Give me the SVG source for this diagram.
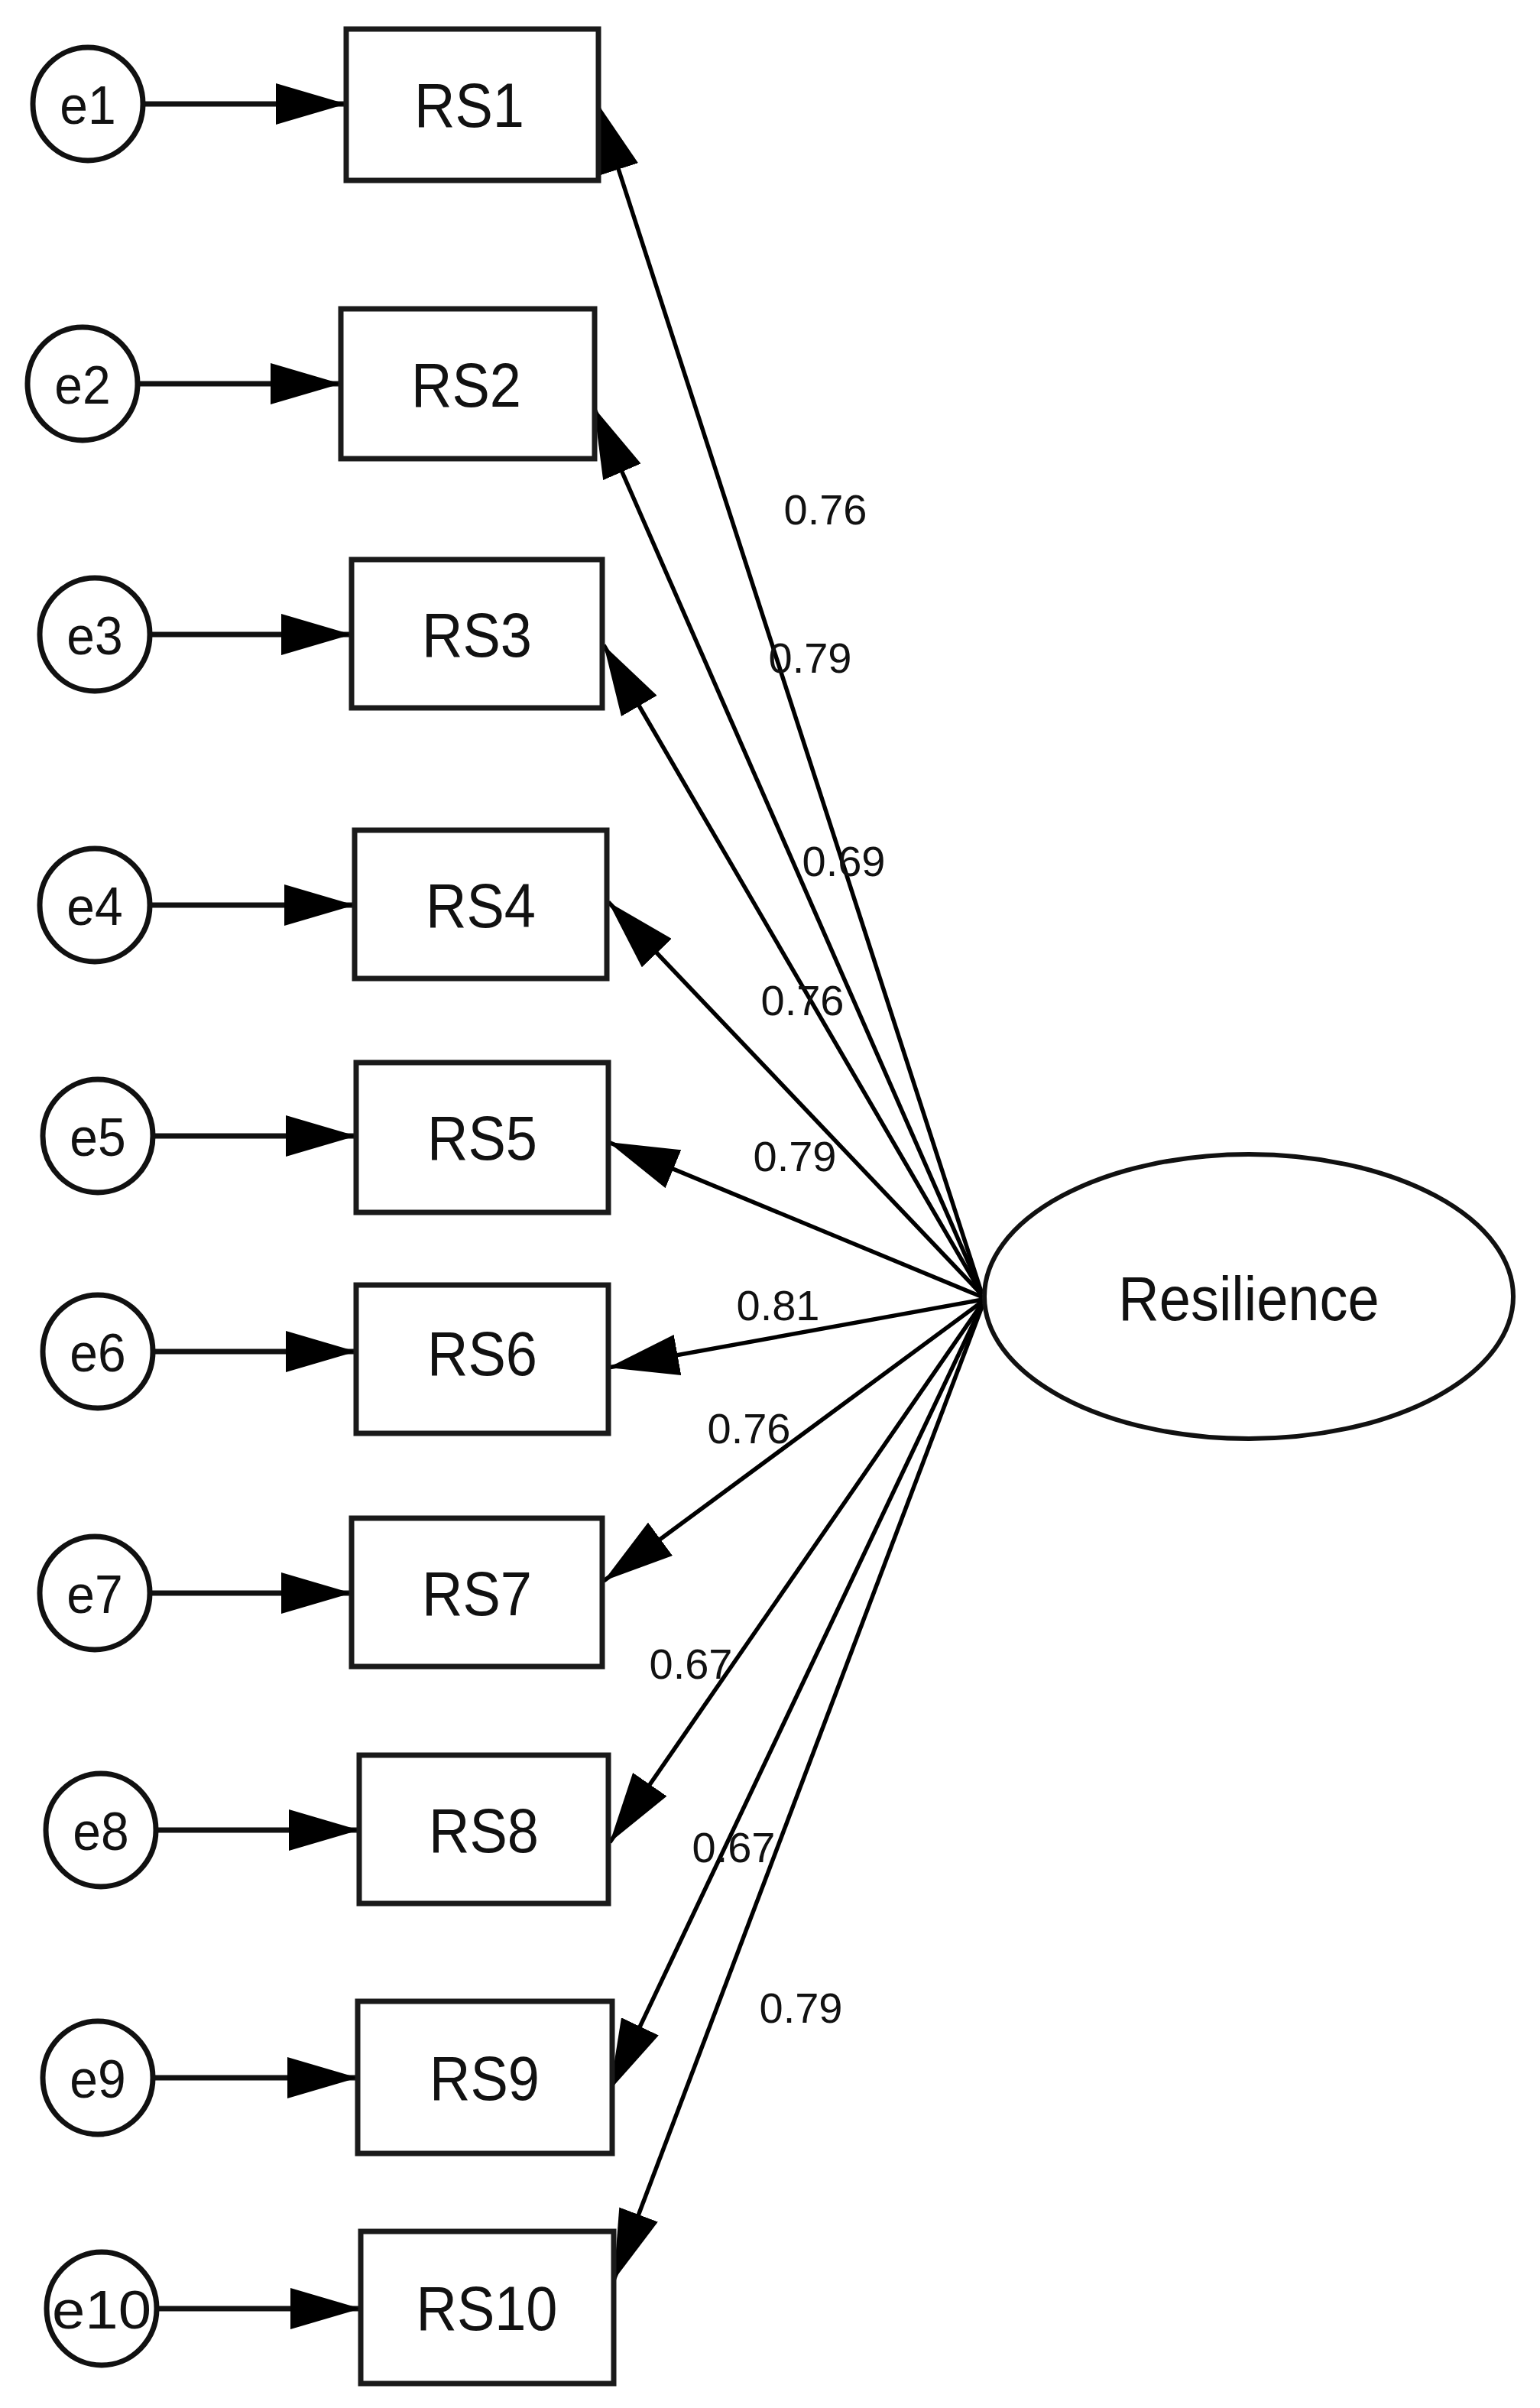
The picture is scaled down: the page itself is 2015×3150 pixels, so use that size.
<svg xmlns="http://www.w3.org/2000/svg" width="2015" height="3150" viewBox="0 0 2015 3150">
<defs>
<marker id="ah" markerUnits="userSpaceOnUse" markerWidth="92" markerHeight="54" refX="92" refY="27" orient="auto" viewBox="0 0 92 54">
<path d="M0,0 L92,27 L0,54 Z" fill="#000"/>
</marker>
<style>
.box{fill:#fff;stroke:#1a1a1a;stroke-width:7}
.err{fill:#fff;stroke:#111;stroke-width:7}
.lat{fill:#fff;stroke:#111;stroke-width:6}
.edge{stroke:#000;stroke-width:5.5;fill:none;marker-end:url(#ah)}
.eedge{stroke:#111;stroke-width:7;fill:none;marker-end:url(#ah)}
.t{font-family:"Liberation Sans",Arial,sans-serif;fill:#111;text-anchor:middle}
.tb{font-size:74px;transform-box:fill-box;transform-origin:center;transform:scaleY(1.1)}
.te{font-size:66px;transform-box:fill-box;transform-origin:center;transform:scaleY(1.08)}
.tl{font-size:56px}
</style>
</defs>
<rect width="2015" height="3150" fill="#fff"/>
<g id="connectors">
<line class="eedge" x1="188" y1="136" x2="453" y2="136"/>
<line class="eedge" x1="181" y1="502" x2="446" y2="502"/>
<line class="eedge" x1="197" y1="830" x2="460" y2="830"/>
<line class="eedge" x1="197" y1="1184" x2="464" y2="1184"/>
<line class="eedge" x1="201" y1="1486" x2="466" y2="1486"/>
<line class="eedge" x1="201" y1="1768" x2="466" y2="1768"/>
<line class="eedge" x1="197" y1="2084" x2="460" y2="2084"/>
<line class="eedge" x1="205" y1="2394" x2="470" y2="2394"/>
<line class="eedge" x1="201" y1="2718" x2="468" y2="2718"/>
<line class="eedge" x1="206" y1="3020" x2="472" y2="3020"/>
<line class="edge" x1="1284" y1="1690" x2="781" y2="134"/>
<line class="edge" x1="1284" y1="1690" x2="777" y2="533"/>
<line class="edge" x1="1284" y1="1692" x2="790" y2="844"/>
<line class="edge" x1="1285" y1="1694" x2="796" y2="1180"/>
<line class="edge" x1="1286" y1="1697" x2="796" y2="1494"/>
<line class="edge" x1="1286" y1="1700" x2="796" y2="1789"/>
<line class="edge" x1="1286" y1="1702" x2="790" y2="2068"/>
<line class="edge" x1="1285" y1="1705" x2="798" y2="2410"/>
<line class="edge" x1="1285" y1="1707" x2="798" y2="2734"/>
<line class="edge" x1="1285" y1="1709" x2="803" y2="2983"/>
<text class="t tl" x="1080" y="686">0.76</text>
<text class="t tl" x="1060" y="880">0.79</text>
<text class="t tl" x="1104" y="1146">0.69</text>
<text class="t tl" x="1050" y="1328">0.76</text>
<text class="t tl" x="1040" y="1532">0.79</text>
<text class="t tl" x="1018" y="1727">0.81</text>
<text class="t tl" x="980" y="1888">0.76</text>
<text class="t tl" x="904" y="2196">0.67</text>
<text class="t tl" x="960" y="2436">0.67</text>
<text class="t tl" x="1048" y="2646">0.79</text>
</g>
<g id="e1"><ellipse class="err" cx="115" cy="136" rx="72" ry="74"/><text class="t te" x="115" y="160">e1</text></g>
<g id="e2"><ellipse class="err" cx="108" cy="502" rx="72" ry="74"/><text class="t te" x="108" y="526">e2</text></g>
<g id="e3"><ellipse class="err" cx="124" cy="830" rx="72" ry="74"/><text class="t te" x="124" y="854">e3</text></g>
<g id="e4"><ellipse class="err" cx="124" cy="1184" rx="72" ry="74"/><text class="t te" x="124" y="1208">e4</text></g>
<g id="e5"><ellipse class="err" cx="128" cy="1486" rx="72" ry="74"/><text class="t te" x="128" y="1510">e5</text></g>
<g id="e6"><ellipse class="err" cx="128" cy="1768" rx="72" ry="74"/><text class="t te" x="128" y="1792">e6</text></g>
<g id="e7"><ellipse class="err" cx="124" cy="2084" rx="72" ry="74"/><text class="t te" x="124" y="2108">e7</text></g>
<g id="e8"><ellipse class="err" cx="132" cy="2394" rx="72" ry="74"/><text class="t te" x="132" y="2418">e8</text></g>
<g id="e9"><ellipse class="err" cx="128" cy="2718" rx="72" ry="74"/><text class="t te" x="128" y="2742">e9</text></g>
<g id="e10"><ellipse class="err" cx="133" cy="3020" rx="72" ry="74"/><text class="t te" x="133" y="3044" textLength="130" lengthAdjust="spacingAndGlyphs">e10</text></g>
<g id="RS1"><rect class="box" x="453" y="38" width="330" height="198"/><text class="t tb" x="614" y="163">RS1</text></g>
<g id="RS2"><rect class="box" x="446" y="404" width="332" height="196"/><text class="t tb" x="610" y="529">RS2</text></g>
<g id="RS3"><rect class="box" x="460" y="732" width="328" height="194"/><text class="t tb" x="624" y="856">RS3</text></g>
<g id="RS4"><rect class="box" x="464" y="1086" width="330" height="194"/><text class="t tb" x="629" y="1210">RS4</text></g>
<g id="RS5"><rect class="box" x="466" y="1390" width="330" height="196"/><text class="t tb" x="631" y="1514">RS5</text></g>
<g id="RS6"><rect class="box" x="466" y="1681" width="330" height="194"/><text class="t tb" x="631" y="1796">RS6</text></g>
<g id="RS7"><rect class="box" x="460" y="1986" width="328" height="194"/><text class="t tb" x="624" y="2110">RS7</text></g>
<g id="RS8"><rect class="box" x="470" y="2296" width="326" height="194"/><text class="t tb" x="633" y="2420">RS8</text></g>
<g id="RS9"><rect class="box" x="468" y="2618" width="333" height="199"/><text class="t tb" x="634" y="2744">RS9</text></g>
<g id="RS10"><rect class="box" x="472" y="2919" width="331" height="199"/><text class="t tb" x="637" y="3045">RS10</text></g>
<g id="Resilience"><ellipse class="lat" cx="1634" cy="1696" rx="346" ry="186"/><text class="t tb" x="1634" y="1724">Resilience</text></g>
</svg>
